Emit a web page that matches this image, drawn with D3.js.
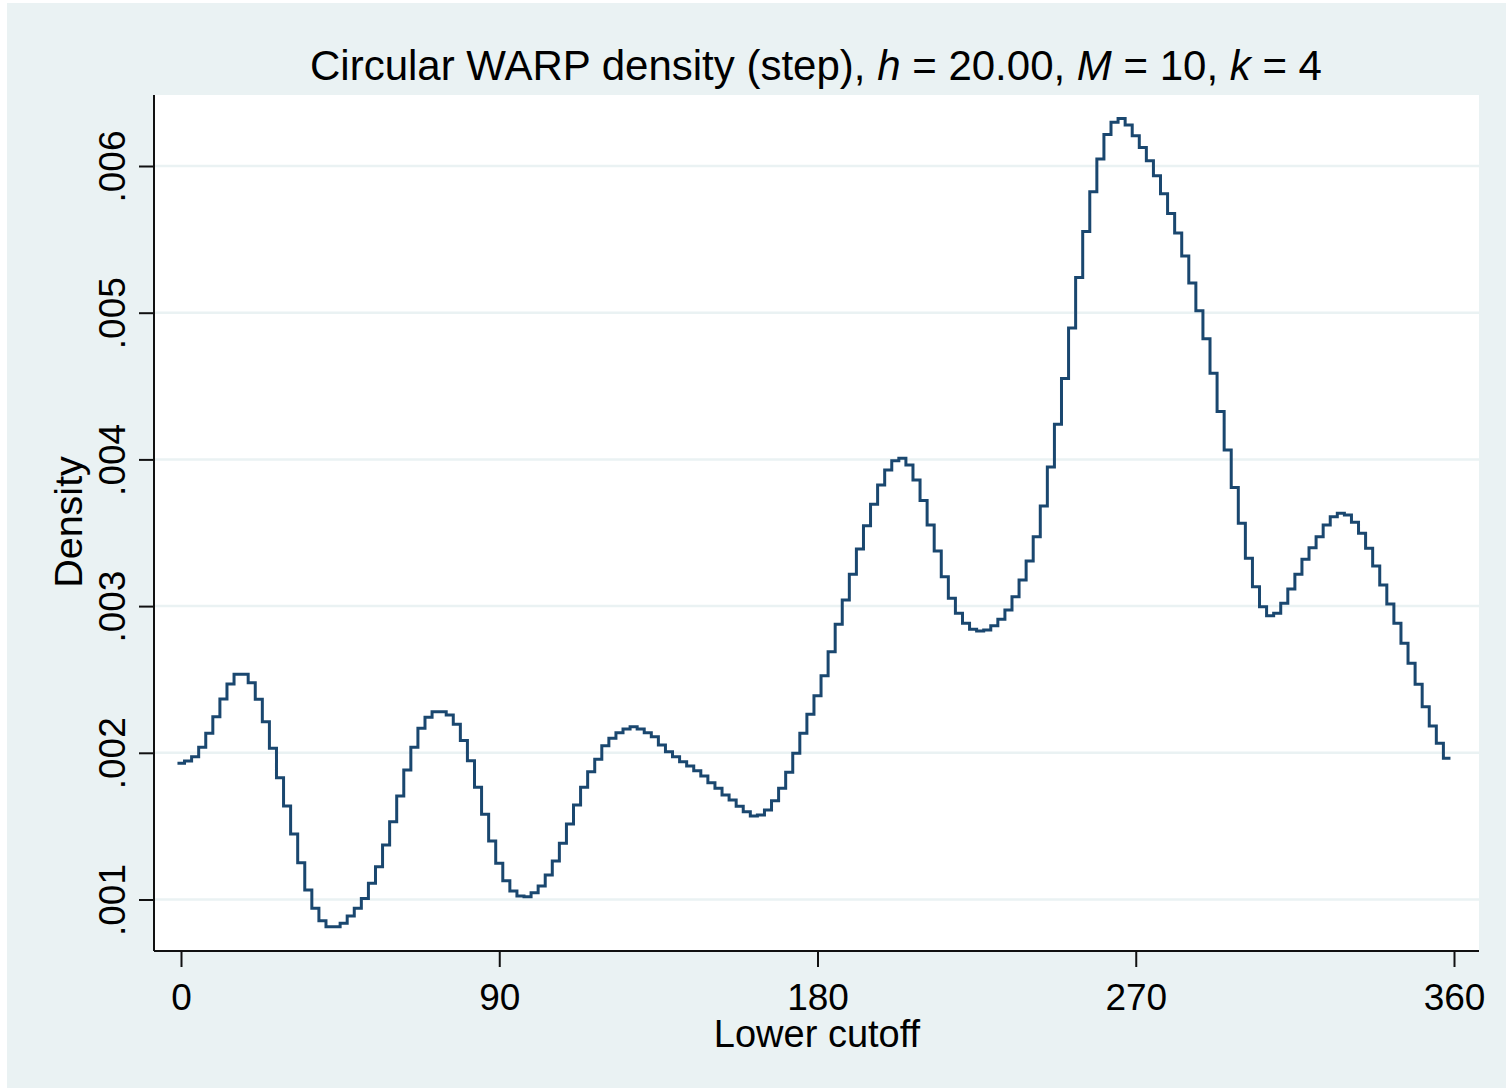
<!DOCTYPE html>
<html>
<head>
<meta charset="utf-8">
<script src="https://cdn.jsdelivr.net/npm/d3@7"></script>
<style>
  html, body { margin: 0; padding: 0; background: #ffffff; }
  svg { display: block; }
  text { font-family: "Liberation Sans", Arial, sans-serif; fill: #000; }
</style>
</head>
<body>
<svg id="chart" width="1506" height="1088"></svg>
<script>
// Lower cutoffs of the WARP bins (degrees), bin width h/M = 2
const cutoffs = d3.range(0, 360, 2);

// Estimated density in each bin (units of 1e-3)
const densityE3 = [
  1.928, 1.944, 1.973, 2.038, 2.133, 2.246, 2.367, 2.469, 2.535, 2.535,
  2.478, 2.365, 2.212, 2.031, 1.830, 1.637, 1.447, 1.251, 1.065, 0.940,
  0.856, 0.815, 0.815, 0.838, 0.888, 0.940, 1.007, 1.110, 1.224, 1.372,
  1.530, 1.706, 1.883, 2.038, 2.167, 2.242, 2.280, 2.280, 2.258, 2.194,
  2.083, 1.946, 1.765, 1.581, 1.399, 1.247, 1.128, 1.058, 1.024, 1.019,
  1.046, 1.092, 1.167, 1.262, 1.383, 1.515, 1.644, 1.765, 1.871, 1.956,
  2.048, 2.099, 2.137, 2.162, 2.178, 2.162, 2.137, 2.110, 2.053, 2.008,
  1.973, 1.939, 1.910, 1.878, 1.842, 1.796, 1.758, 1.712, 1.678, 1.635,
  1.599, 1.569, 1.576, 1.610, 1.673, 1.758, 1.867, 1.997, 2.133, 2.262,
  2.389, 2.526, 2.689, 2.876, 3.042, 3.217, 3.389, 3.548, 3.694, 3.826,
  3.928, 3.991, 4.008, 3.962, 3.860, 3.719, 3.553, 3.376, 3.200, 3.053,
  2.951, 2.883, 2.842, 2.830, 2.837, 2.866, 2.910, 2.973, 3.064, 3.178,
  3.307, 3.473, 3.682, 3.948, 4.239, 4.551, 4.896, 5.240, 5.554, 5.824,
  6.048, 6.214, 6.299, 6.323, 6.280, 6.207, 6.126, 6.036, 5.934, 5.810,
  5.676, 5.544, 5.386, 5.203, 5.014, 4.823, 4.588, 4.327, 4.064, 3.808,
  3.564, 3.326, 3.132, 2.996, 2.935, 2.951, 3.019, 3.117, 3.217, 3.319,
  3.398, 3.473, 3.553, 3.609, 3.633, 3.621, 3.571, 3.496, 3.394, 3.273,
  3.144, 3.014, 2.883, 2.746, 2.610, 2.467, 2.314, 2.183, 2.065, 1.963
];
const density = densityE3.map(d => d / 1000);

const xTicks = [0, 90, 180, 270, 360];
const yTicks = [0.001, 0.002, 0.003, 0.004, 0.005, 0.006];
const yTickLabels = [".001", ".002", ".003", ".004", ".005", ".006"];

const svg = d3.select("#chart");
const W = 1506, H = 1088;
const plot = { left: 154, right: 1479, top: 95, bottom: 951 };

const bgColor = "#eaf2f3";
const lineColor = "#1a476f";

// Outer graph region
svg.append("rect").attr("x", 7).attr("y", 3).attr("width", W - 7).attr("height", H - 3)
  .attr("fill", bgColor);

// Plot region
svg.append("rect")
  .attr("x", plot.left).attr("y", plot.top)
  .attr("width", plot.right - plot.left).attr("height", plot.bottom - plot.top)
  .attr("fill", "#ffffff");

const x = d3.scaleLinear().domain([0, 360]).range([181, 1454]);
const y = d3.scaleLinear().domain([0.001, 0.006]).range([899.5, 166]);

// Horizontal gridlines
svg.append("g").selectAll("line").data(yTicks).join("line")
  .attr("x1", plot.left).attr("x2", plot.right)
  .attr("y1", d => y(d)).attr("y2", d => y(d))
  .attr("stroke", bgColor).attr("stroke-width", 2.5);

// Step density: each bin is centred on its cutoff, spanning one bin width
const half = 1;
const pts = [[cutoffs[0] - half, density[0]]]
  .concat(cutoffs.map((c, i) => [c, density[i]]))
  .concat([[cutoffs[cutoffs.length - 1] + half, density[density.length - 1]]]);

const line = d3.line()
  .x(d => x(d[0]))
  .y(d => y(d[1]))
  .curve(d3.curveStep);

svg.append("path")
  .datum(pts)
  .attr("d", line)
  .attr("fill", "none")
  .attr("stroke", lineColor)
  .attr("stroke-width", 3)
  .attr("stroke-linejoin", "miter");

// Y axis
const yAxis = d3.axisLeft(y).tickValues(yTicks).tickSize(15).tickFormat((d, i) => yTickLabels[i]);
const gy = svg.append("g").attr("transform", `translate(${plot.left},0)`).call(yAxis);
gy.select(".domain").attr("d", `M0,${plot.top}V${plot.bottom}`).attr("stroke", "#111").attr("stroke-width", 2);
gy.selectAll(".tick line").attr("stroke", "#111").attr("stroke-width", 2);
gy.selectAll(".tick text")
  .attr("x", null).attr("dy", null)
  .attr("transform", "translate(-29,0) rotate(-90)")
  .attr("text-anchor", "middle")
  .attr("font-size", 37)
  .attr("font-family", "Liberation Sans, Arial, sans-serif")
  .attr("fill", "#000");

// X axis
const xAxis = d3.axisBottom(x).tickValues(xTicks).tickSize(16).tickFormat(d3.format("d"));
const gx = svg.append("g").attr("transform", `translate(0,${plot.bottom})`).call(xAxis);
gx.select(".domain").attr("d", `M${plot.left},0H${plot.right}`).attr("stroke", "#111").attr("stroke-width", 2);
gx.selectAll(".tick line").attr("stroke", "#111").attr("stroke-width", 2);
gx.selectAll(".tick text")
  .attr("y", 59).attr("dy", null)
  .attr("font-size", 37)
  .attr("font-family", "Liberation Sans, Arial, sans-serif")
  .attr("fill", "#000");

// Axis titles
svg.append("text")
  .attr("transform", "translate(82,522) rotate(-90)")
  .attr("text-anchor", "middle")
  .attr("font-size", 39.5)
  .text("Density");

svg.append("text")
  .attr("x", 817).attr("y", 1047)
  .attr("text-anchor", "middle")
  .attr("font-size", 38)
  .text("Lower cutoff");

// Title with italic parameter symbols
const title = svg.append("text")
  .attr("x", 816).attr("y", 80)
  .attr("text-anchor", "middle")
  .attr("font-size", 42);
const parts = [
  ["Circular WARP density (step), ", false],
  ["h", true], [" = 20.00, ", false],
  ["M", true], [" = 10, ", false],
  ["k", true], [" = 4", false]
];
parts.forEach(([t, it]) => {
  title.append("tspan").attr("font-style", it ? "italic" : "normal").text(t);
});
</script>
</body>
</html>
